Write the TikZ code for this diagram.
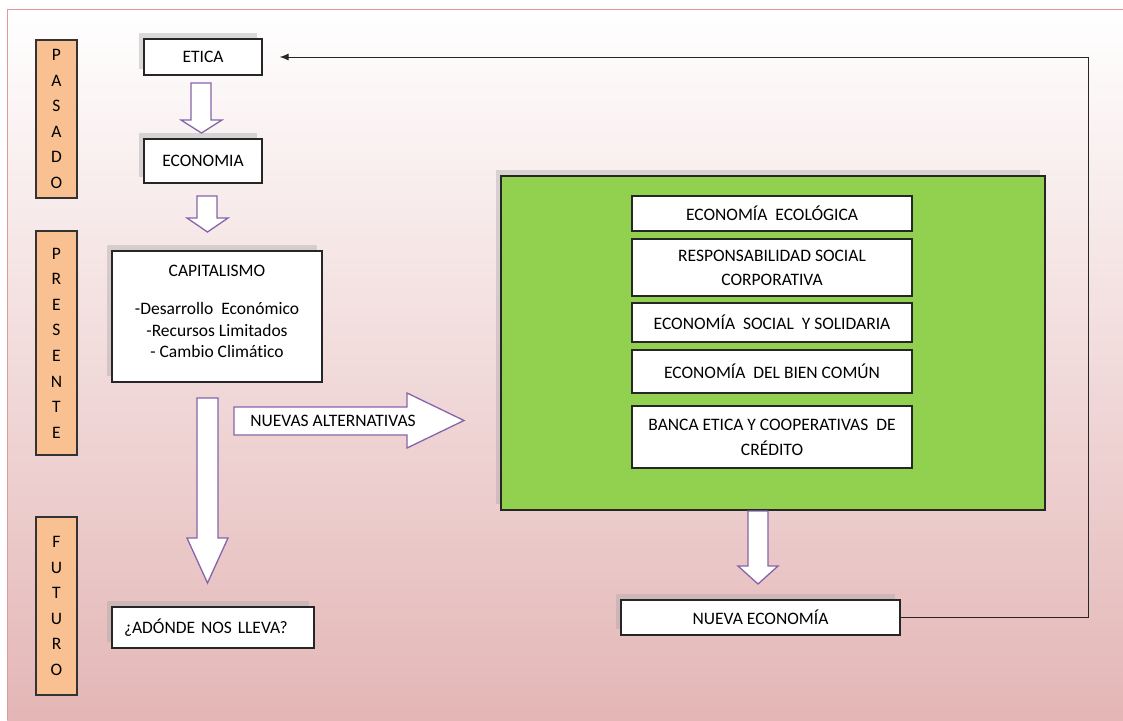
\documentclass[tikz,border=0pt]{standalone}
\usepackage{fontspec}
\setmainfont{Carlito}[Ligatures=NoCommon]
\usepackage{tikz}
\usetikzlibrary{positioning,shadows,arrows.meta}
\definecolor{bgpink}{RGB}{228,182,182}
\definecolor{framepink}{RGB}{230,150,150}
\definecolor{era}{RGB}{249,192,146}
\definecolor{hollowline}{RGB}{134,100,170}
\definecolor{grass}{RGB}{146,208,80}

\begin{document}
\begin{tikzpicture}[
  x = 1pt,
  y = -1pt,
  font = \fontsize{17.5}{21}\selectfont,
  box/.style = {
    draw = black!85,
    rectangle,
    fill = white,
    line width = 1.2pt,
    inner sep = 0pt,
    align = center,
  },
  shadowed/.style = {
    box,
    drop shadow = {shadow xshift=-5pt, shadow yshift=6pt, fill=black!35, opacity=0.4},
  },
  eratag/.style = {
    draw = black!80,
    rectangle,
    fill = era,
    line width = 1.2pt,
    minimum width = 41pt,
    align = center,
    font = \fontsize{17.5}{25.6}\selectfont,
  },
  hollow/.style = {
    draw = hollowline,
    fill = white,
    line width = 1.3pt,
    line join = miter,
  },
  feedback/.style = {
    draw = black!85,
    line width = 1pt,
    -{Latex[length=9pt,width=7pt]},
  },
]

  \useasboundingbox (0,0) rectangle (1123,720);
  \shade[top color = white, bottom color = bgpink] (7,9) rectangle (1123,720);
  \draw[framepink, line width = 1pt] (1123,9) -- (7,9) -- (7,720);

  % time line
  \node[eratag, minimum height = 158pt] (pasado) at (56.5,119) {P\\A\\S\\A\\D\\O};
  \node[eratag, minimum height = 224pt] (presente) at (56.5,343) {P\\R\\E\\S\\E\\N\\T\\E};
  \node[eratag, minimum height = 178pt] (futuro) at (56.5,606) {F\\U\\T\\U\\R\\O};

  % left column
  \node[shadowed, minimum width = 118pt, minimum height = 36pt] (etica) at (203,57) {ETICA};
  \node[shadowed, minimum width = 118pt, minimum height = 44pt] (economia) at (203,161) {ECONOMIA};
  \node[shadowed, minimum width = 210pt, minimum height = 131pt,
    font = \fontsize{17.5}{21.5}\selectfont] (capitalismo) at (217,316.5)
    {CAPITALISMO\\[17pt]-Desarrollo\ \ Económico\\-Recursos Limitados\\- Cambio Climático\\[-11.5pt]};
  \node[shadowed, minimum width = 202pt, minimum height = 41pt, text width = 178pt,
    align = left] (adonde) at (213,627.5) {¿ADÓNDE NOS LLEVA?};

  \draw[hollow] (191,83) -- (211,83) -- (211,120) -- (222,120) -- (201.5,133)
    -- (181,120) -- (191,120) -- cycle;
  \draw[hollow] (197,196) -- (217,196) -- (217,218) -- (228,218) -- (207.5,232)
    -- (187,218) -- (197,218) -- cycle;
  \draw[hollow] (197,398) -- (218,398) -- (218,538) -- (228,538) -- (207.5,583)
    -- (187,538) -- (197,538) -- cycle;
  \draw[hollow] (234,407) -- (407,407) -- (407,393) -- (464,420.5) -- (407,448)
    -- (407,435) -- (234,435) -- cycle;
  \node (alternativas) at (333,421) {NUEVAS ALTERNATIVAS};

  % alternatives
  \node[shadowed, fill = grass, minimum width = 544pt, minimum height = 334pt] (verde) at (773,343) {};
  \node[box, minimum width = 280pt, minimum height = 35pt] (eco1) at (772,213.5) {ECONOMÍA\ \ ECOLÓGICA};
  \node[box, minimum width = 280pt, minimum height = 57pt,
    font = \fontsize{17.5}{24}\selectfont] (eco2) at (772,267.5) {RESPONSABILIDAD SOCIAL\\CORPORATIVA};
  \node[box, minimum width = 280pt, minimum height = 39pt] (eco3) at (772,322.5) {ECONOMÍA\ \ SOCIAL\ \ Y SOLIDARIA};
  \node[box, minimum width = 280pt, minimum height = 43pt] (eco4) at (772,371.5) {ECONOMÍA\ \ DEL BIEN COMÚN};
  \node[box, minimum width = 280pt, minimum height = 62pt,
    font = \fontsize{17.5}{25}\selectfont] (eco5) at (772,437) {BANCA ETICA Y COOPERATIVAS\ \ DE\\CRÉDITO};

  \draw[hollow] (748,511) -- (768,511) -- (768,566) -- (778,566) -- (758,584)
    -- (738,566) -- (748,566) -- cycle;
  \node[shadowed, minimum width = 279pt, minimum height = 35pt] (nueva) at (760.5,617.5) {NUEVA ECONOMÍA};

  \coordinate (vuelta) at (1088,58);
  \draw[feedback, shorten > = 17pt] (nueva.east) -| (vuelta) |- (etica.east);

\end{tikzpicture}
\end{document}
